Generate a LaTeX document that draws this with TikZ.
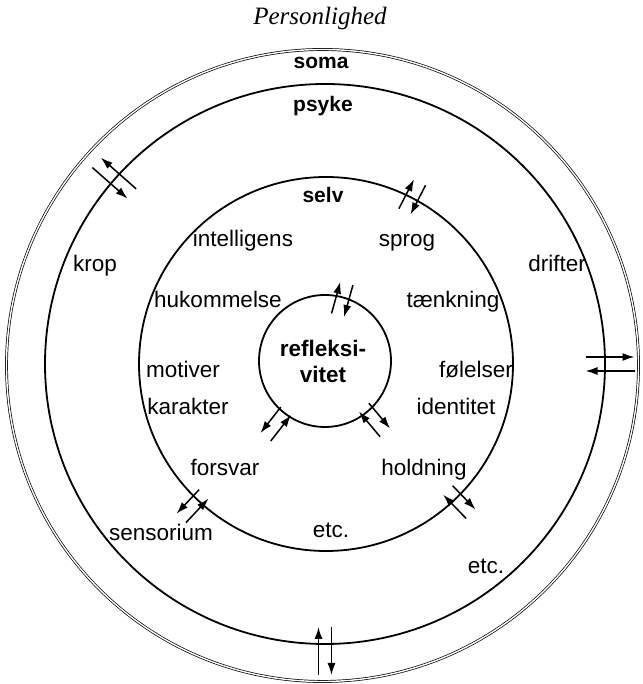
\documentclass[tikz,border=0pt]{standalone}
\usepackage{fontspec}
\setmainfont{Liberation Sans}
\newfontfamily\titlefont{Liberation Serif}
\usetikzlibrary{arrows.meta,calc}
\begin{document}
\begin{tikzpicture}[x=1pt,y=1pt,
  ring/.style={line width=1.8pt},
  outerring/.style={line width=0.7pt, double, double distance=1.4pt},
  lbl/.style={anchor=base, font=\fontsize{22.5}{26}\selectfont, inner sep=0pt},
  blbl/.style={anchor=base, font=\fontsize{21}{25}\selectfont\bfseries, inner sep=0pt},
  arr/.style={line width=1.5pt, -{Latex[length=12pt,width=8pt]}},
  pics/dualarrow/.style args={#1/#2/#3}{code={
     \coordinate (-oa) at (-#1/2, {(#3)*#2});
     \coordinate (-ob) at (#1/2, {(#3)*#2});
     \coordinate (-ia) at (#1/2, {-(#3)*#2});
     \coordinate (-ib) at (-#1/2, {-(#3)*#2});
     \draw[arr] (-oa) -- (-ob);
     \draw[arr] (-ia) -- (-ib);
  }}]
\useasboundingbox[fill=white] (0,0) rectangle (642,684);

% centres
\coordinate (co) at (322.5,318.5);
\coordinate (cp) at (325,320);
\coordinate (cs) at (326,320);
\coordinate (cr) at (325,323);

% circles
\draw[outerring] (co) circle[radius=316];
\draw[ring] (cp) circle[radius=280];
\draw[ring] (cs) circle[radius=187];
\draw[ring] (cr) circle[radius=66];

% arrow pairs
\pic[rotate=138.6] (p1) at ($(cp)+(138.6:281)$) {dualarrow=47/6.5/-1};
\pic[rotate=62.7]  (p2) at ($(cs)+(62.7:188)$)  {dualarrow=33/6.5/1};
\pic[rotate=74.4]  (p3) at ($(cr)+(74.4:64)$)   {dualarrow=33/6.5/1};
\pic[rotate=232]   (p4) at ($(cr)+(232:80)$)    {dualarrow=33/6.5/-1};
\pic[rotate=310]   (p5) at ($(cr)+(310:77)$)    {dualarrow=33/6.5/1};
\pic[rotate=226.8] (p6) at ($(cs)+(226.8:195)$) {dualarrow=33/6.5/-1};
\pic[rotate=314]   (p7) at ($(cs)+(314:192)$)   {dualarrow=33/6.5/1};
\pic[rotate=0]     (p8) at ($(cp)+(0:285)$)     {dualarrow=49/7/1};
\pic[rotate=270]   (p9) at ($(cp)+(270:287)$)   {dualarrow=48/6.5/1};

% title
\node[anchor=base, inner sep=0pt, font=\titlefont\itshape\fontsize{25}{29}\selectfont] (title) at (320,659) {Personlighed};

% bold labels
\node[blbl] (soma)  at (321,615) {soma};
\node[blbl] (psyke) at (323,572) {psyke};
\node[blbl] (selv)  at (323,481) {selv};
\node[blbl, font=\fontsize{22.5}{26}\selectfont\bfseries] (refl1) at (323,327) {refleksi-};
\node[blbl, font=\fontsize{22.5}{26}\selectfont\bfseries] (refl2) at (323,301) {vitet};

% regular labels
\node[lbl] (intelligens) at (243,437) {intelligens};
\node[lbl] (sprog)       at (407,437) {sprog};
\node[lbl] (krop)        at (95,412)  {krop};
\node[lbl] (drifter)     at (557,412) {drifter};
\node[lbl] (hukommelse)  at (218,376) {hukommelse};
\node[lbl] (taenkning)   at (453,376) {tænkning};
\node[lbl] (motiver)     at (183,306) {motiver};
\node[lbl] (foelelser)   at (476,306) {følelser};
\node[lbl] (karakter)    at (188,269) {karakter};
\node[lbl] (identitet)   at (456,269) {identitet};
\node[lbl] (forsvar)     at (225,208) {forsvar};
\node[lbl] (holdning)    at (424,208) {holdning};
\node[lbl] (sensorium)   at (161,143) {sensorium};
\node[lbl] (etc1)        at (331,146) {etc.};
\node[lbl] (etc2)        at (486,110) {etc.};
\end{tikzpicture}
\end{document}
